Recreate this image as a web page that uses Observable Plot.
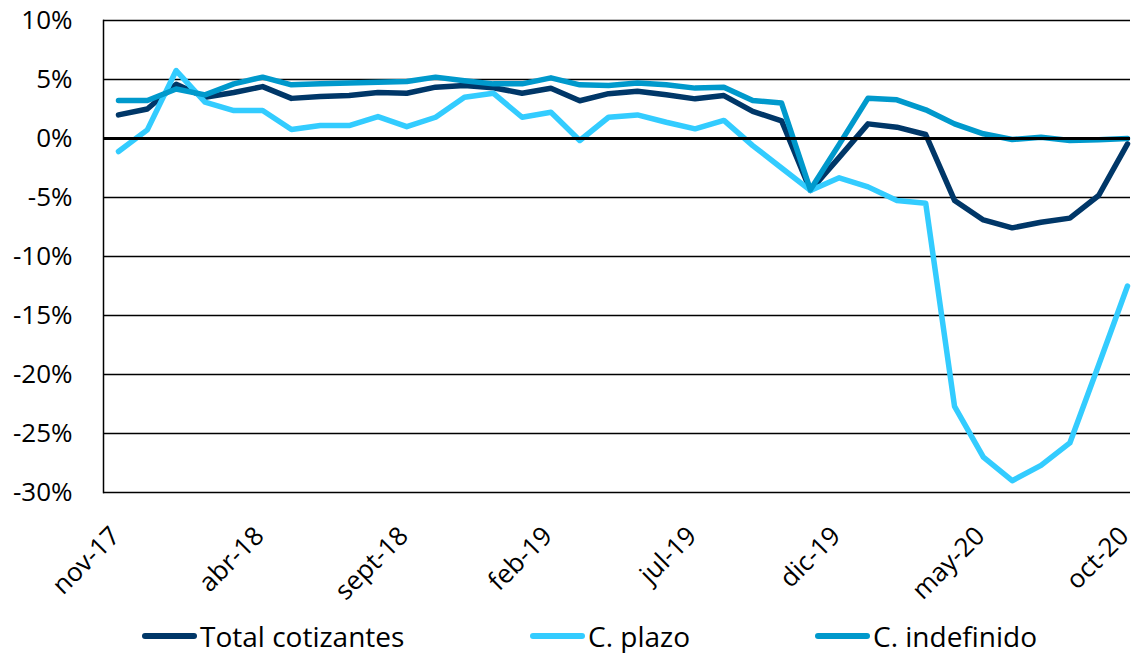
<!DOCTYPE html>
<html><head><meta charset="utf-8">
<script src="https://cdn.jsdelivr.net/npm/d3@7"></script>
<script src="https://cdn.jsdelivr.net/npm/@observablehq/plot@0.6"></script>
<style>
body{margin:0;background:#fff;font-family:"Open Sans",sans-serif;}
#legend{position:relative;height:41px;width:1137px;}
.item{position:absolute;top:6px;display:flex;align-items:center;font-size:28px;color:#000;line-height:36px;}
.sw{width:55px;height:6px;border-radius:3px;margin-right:3px;}
</style></head><body>
<div id="chart"></div><div id="legend"></div>
<script>
const months = ["nov-17","dic-17","ene-18","feb-18","mar-18","abr-18","may-18","jun-18","jul-18","ago-18","sept-18","oct-18",
  "nov-18","dic-18","ene-19","feb-19","mar-19","abr-19","may-19","jun-19","jul-19","ago-19","sept-19","oct-19",
  "nov-19","dic-19","ene-20","feb-20","mar-20","abr-20","may-20","jun-20","jul-20","ago-20","sept-20","oct-20"];
const totalCotizantes = [2.0,2.5,4.6,3.5,3.9,4.4,3.4,3.56,3.64,3.9,3.84,4.35,4.5,4.3,3.84,4.26,3.2,3.8,4.0,3.7,3.36,3.64,2.3,1.5,
  -4.4,-1.6,1.24,0.96,0.34,-5.25,-6.9,-7.57,-7.1,-6.75,-4.83,-0.45];
const cPlazo = [-1.1,0.73,5.76,3.08,2.37,2.37,0.76,1.1,1.1,1.86,1.0,1.8,3.5,3.84,1.8,2.23,-0.17,1.8,2.0,1.38,0.82,1.53,-0.6,-2.5,
  -4.4,-3.33,-4.1,-5.25,-5.48,-22.7,-27.0,-29.0,-27.7,-25.8,-19.2,-12.5];
const cIndefinido = [3.22,3.22,4.2,3.7,4.63,5.2,4.55,4.63,4.7,4.77,4.83,5.2,4.9,4.63,4.63,5.14,4.55,4.5,4.7,4.55,4.27,4.35,3.22,3.0,
  -4.35,-0.5,3.42,3.28,2.43,1.24,0.4,-0.08,0.1,-0.17,-0.1,0.0];
const seriesNames = ["Total cotizantes","C. plazo","C. indefinido"];
const seriesColors = ["#003768","#33CCFF","#0099CC"];
const yTicks = [10,5,0,-5,-10,-15,-20,-25,-30];
const xTickLabels = ["nov-17","abr-18","sept-18","feb-19","jul-19","dic-19","may-20","oct-20"];

const seriesValues = [totalCotizantes, cPlazo, cIndefinido];
const rows = seriesNames.flatMap((s, k) => months.map((m, i) => ({idx: i, month: m, value: seriesValues[k][i], serie: s})));
const xTickIdx = xTickLabels.map(l => months.indexOf(l));

const H = 612;
const chart = Plot.plot({
  width: 1137, height: H,
  marginLeft: 103, marginRight: 7, marginTop: 20, marginBottom: H - 492,
  style: {fontFamily: '"Open Sans", sans-serif', color: "#000", background: "#fff"},
  x: {type: "linear", domain: [0, months.length - 1], insetLeft: 15, insetRight: 3},
  y: {domain: [-30, 10]},
  color: {domain: seriesNames, range: seriesColors},
  marks: [
    Plot.ruleY(yTicks.filter(d => d !== 0), {stroke: "#000", strokeWidth: 1.5}),
    Plot.frame({anchor: "left", stroke: "#000", strokeWidth: 1.5}),
    Plot.axisY({ticks: yTicks, tickSize: 0, tickPadding: 31, tickFormat: d => `${d}%`, fontSize: 26, label: null}),
    Plot.axisX({ticks: xTickIdx, tickSize: 0, tickRotate: -45, tickPadding: 31, dx: -3, dy: 8, fontSize: 26, tickFormat: i => months[i], label: null}),
    Plot.lineY(rows, {x: "idx", y: "value", stroke: "serie", strokeWidth: 5.5, strokeLinejoin: "round", strokeLinecap: "round"}),
    Plot.ruleY([0], {stroke: "#000", strokeWidth: 3})
  ]
});
document.getElementById("chart").appendChild(chart);

const legend = document.getElementById("legend");
const legendX = [142, 530, 815];
seriesNames.forEach((s, k) => {
  const it = document.createElement("div");
  it.className = "item";
  it.style.left = legendX[k] + "px";
  const sw = document.createElement("div");
  sw.className = "sw";
  sw.style.background = seriesColors[k];
  const tx = document.createElement("span");
  tx.textContent = s;
  it.appendChild(sw); it.appendChild(tx);
  legend.appendChild(it);
});
</script>
</body></html>
